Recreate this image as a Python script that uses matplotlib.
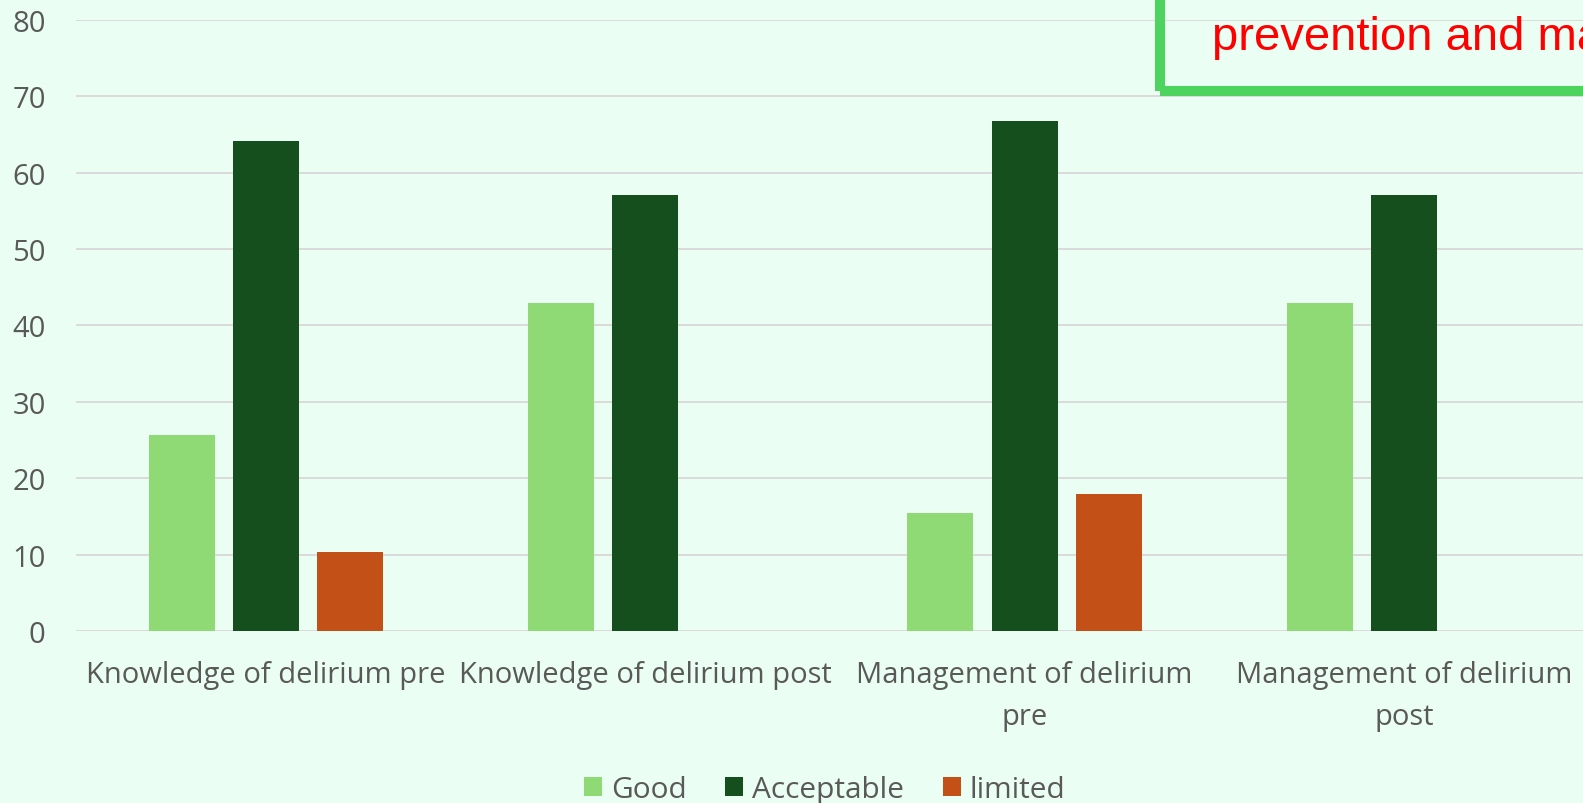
import numpy as np
import matplotlib.pyplot as plt
from matplotlib.patches import Rectangle

categories = ["Knowledge of delirium pre", "Knowledge of delirium post",
              "Management of delirium\npre", "Management of delirium\npost"]
series = ["Good", "Acceptable", "limited"]
good = [25.6, 42.9, 15.4, 42.9]
acceptable = [64.1, 57.1, 66.7, 57.1]
limited = [10.3, 0, 17.9, 0]
yticks = [0, 10, 20, 30, 40, 50, 60, 70, 80]

bg = "#EAFEF3"
colors = ["#8FDA75", "#154F1E", "#C25017"]
txt = "#595959"

plt.rcParams['font.family'] = ['Open Sans', 'DejaVu Sans']

fig = plt.figure(figsize=(15.83, 8.04), dpi=100, facecolor=bg)
ax = fig.add_axes([0.0482, 0.2139, 0.9584, 0.7604])
ax.set_facecolor(bg)

x = np.arange(len(categories))
w = 0.174
step = 0.222
for i, (name, vals) in enumerate(zip(series, [good, acceptable, limited])):
    ax.bar(x + (i - 1) * step, vals, width=w, color=colors[i], label=name,
           linewidth=0, zorder=3)

# axis styling
ax.set_xlim(-0.5, len(categories) - 0.5)
ax.set_ylim(0, 80)
ax.set_yticks(yticks)
ax.grid(axis='y', color="#D9D9D9", linewidth=1.4, zorder=0)
for s in ax.spines.values():
    s.set_visible(False)
ax.tick_params(axis='both', length=0, colors=txt, labelsize=21)
ax.tick_params(axis='y', pad=22)
ax.tick_params(axis='x', pad=21)
ax.set_xticks(x)
ax.set_xticklabels(categories, linespacing=1.6, va='top')

fig.legend(loc='center', bbox_to_anchor=(0.521, 0.017), ncol=3, frameon=False,
           fontsize=21.5, labelcolor=txt, handlelength=0.6, handleheight=0.6,
           handletextpad=0.3, columnspacing=1.3)

# callout box at top right
fig.add_artist(Rectangle((0.7328, 0.885), 0.4, 0.3, transform=fig.transFigure,
                         fill=False, edgecolor="#4CD45E", linewidth=7.2,
                         clip_on=False))
fig.text(0.7656, 0.938, "prevention and management", color="#FF0000",
         fontsize=34, family=['Liberation Sans', 'DejaVu Sans'], va='baseline')

fig.savefig("out.png", dpi=100, facecolor=bg)
